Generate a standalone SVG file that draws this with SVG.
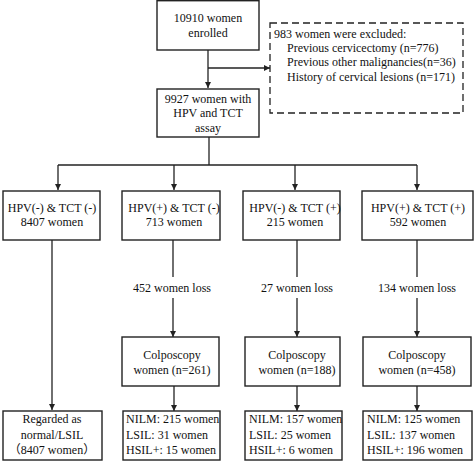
<svg xmlns="http://www.w3.org/2000/svg" width="474" height="462" viewBox="0 0 474 462">
<style>
.b{fill:#fff;stroke:#222;stroke-width:1.4}
.d{fill:none;stroke:#222;stroke-width:1.3;stroke-dasharray:7,4}
.l{fill:none;stroke:#222;stroke-width:1.3}
text{font-family:'Liberation Serif','Times New Roman','Noto Sans CJK SC',serif;font-size:12px;fill:#111}
.c{text-anchor:middle}
</style>
<defs>
<marker id="a" viewBox="0 0 6 6" refX="6" refY="3" markerWidth="6" markerHeight="6" markerUnits="userSpaceOnUse" orient="auto">
<path d="M0,0 L6,3 L0,6 Z" fill="#222"/>
</marker>
</defs>
<rect width="474" height="462" fill="#fff"/>
<g id="connectors">
<path class="l" d="M208,50 V88" marker-end="url(#a)"/>
<path class="l" d="M208,68 H270" marker-end="url(#a)"/>
<path class="l" d="M209,137 V165"/>
<path class="l" d="M58,165 H417"/>
<path class="l" d="M58,165 V190" marker-end="url(#a)"/>
<path class="l" d="M174,165 V190" marker-end="url(#a)"/>
<path class="l" d="M295,165 V190" marker-end="url(#a)"/>
<path class="l" d="M417,165 V190" marker-end="url(#a)"/>
<path class="l" d="M52,240 V410" marker-end="url(#a)"/>
<path class="l" d="M173,240 V277"/>
<path class="l" d="M173,298 V337" marker-end="url(#a)"/>
<path class="l" d="M297,240 V277"/>
<path class="l" d="M297,298 V337" marker-end="url(#a)"/>
<path class="l" d="M417,240 V277"/>
<path class="l" d="M417,298 V337" marker-end="url(#a)"/>
<path class="l" d="M174,386 V411" marker-end="url(#a)"/>
<path class="l" d="M297,386 V411" marker-end="url(#a)"/>
<path class="l" d="M417,386 V411" marker-end="url(#a)"/>
<text class="c" x="172" y="292">452 women loss</text>
<text class="c" x="297" y="292">27 women loss</text>
<text class="c" x="417" y="292">134 women loss</text>
</g>
<g id="enrolled">
<rect class="b" x="157" y="0.7" width="102" height="49.3"/>
<text class="c" x="208" y="22">10910 women</text>
<text class="c" x="208" y="37">enrolled</text>
</g>
<g id="excluded">
<rect class="d" x="270" y="23" width="193" height="90"/>
<text x="274" y="38">983 women were excluded:</text>
<text x="287" y="52">Previous cervicectomy (n=776)</text>
<text x="287" y="66">Previous other malignancies(n=36)</text>
<text x="287" y="81">History of cervical lesions (n=171)</text>
</g>
<g id="assay">
<rect class="b" x="157" y="89" width="102" height="48"/>
<text class="c" x="208" y="103">9927 women with</text>
<text class="c" x="208" y="117">HPV and TCT</text>
<text class="c" x="208" y="132">assay</text>
</g>
<g id="g1">
<rect class="b" x="3" y="191" width="97" height="49"/>
<text class="c" x="52" y="212">HPV(-) &amp; TCT (-)</text>
<text class="c" x="52" y="226">8407 women</text>
</g>
<g id="g2">
<rect class="b" x="122" y="191" width="98" height="49"/>
<text class="c" x="174" y="212">HPV(+) &amp; TCT (-)</text>
<text class="c" x="174" y="226">713 women</text>
</g>
<g id="g3">
<rect class="b" x="243" y="191" width="97" height="49"/>
<text class="c" x="295" y="212">HPV(-) &amp; TCT (+)</text>
<text class="c" x="295" y="226">215 women</text>
</g>
<g id="g4">
<rect class="b" x="362" y="191" width="111" height="49"/>
<text class="c" x="418" y="212">HPV(+) &amp; TCT (+)</text>
<text class="c" x="418" y="226">592 women</text>
</g>
<g id="c2">
<rect class="b" x="122" y="337" width="97" height="49"/>
<text class="c" x="172" y="359">Colposcopy</text>
<text class="c" x="172" y="374">women (n=261)</text>
</g>
<g id="c3">
<rect class="b" x="245" y="337" width="95" height="49"/>
<text class="c" x="297" y="359">Colposcopy</text>
<text class="c" x="297" y="374">women (n=188)</text>
</g>
<g id="c4">
<rect class="b" x="363" y="337" width="108" height="49"/>
<text class="c" x="417" y="359">Colposcopy</text>
<text class="c" x="417" y="374">women (n=458)</text>
</g>
<g id="r1">
<rect class="b" x="3" y="411" width="99" height="49"/>
<text class="c" x="52" y="423">Regarded as</text>
<text class="c" x="52" y="439">normal/LSIL</text>
<text class="c" x="52" y="454">（8407 women）</text>
</g>
<g id="r2">
<rect class="b" x="123" y="411" width="97" height="49"/>
<text x="126" y="423">NILM: 215 women</text>
<text x="126" y="439">LSIL: 31 women</text>
<text x="126" y="454">HSIL+: 15 women</text>
</g>
<g id="r3">
<rect class="b" x="245" y="411" width="97" height="49"/>
<text x="249" y="423">NILM: 157 women</text>
<text x="249" y="439">LSIL: 25 women</text>
<text x="249" y="454">HSIL+: 6 women</text>
</g>
<g id="r4">
<rect class="b" x="363" y="411" width="109" height="49"/>
<text x="367" y="423">NILM: 125 women</text>
<text x="367" y="439">LSIL: 137 women</text>
<text x="367" y="454">HSIL+: 196 women</text>
</g>
</svg>
